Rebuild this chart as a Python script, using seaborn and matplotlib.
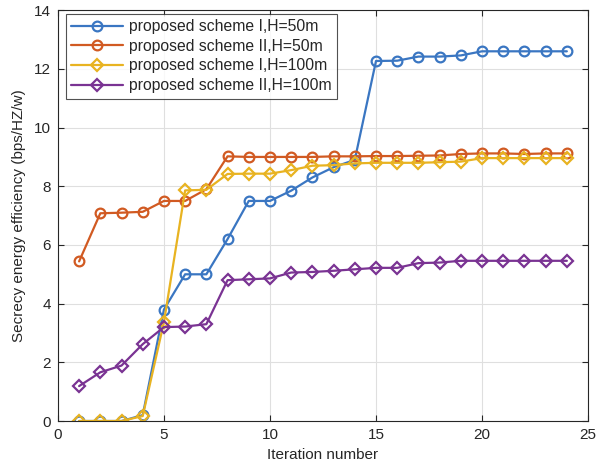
import numpy as np
import pandas as pd
import matplotlib
matplotlib.use("Agg")
import matplotlib.pyplot as plt
import seaborn as sns

iterations = list(range(1, 25))
scheme1_h50 = [0, 0, 0, 0.2, 3.8, 5.0, 5.0, 6.2, 7.5, 7.5, 7.85, 8.3, 8.65, 8.9,
               12.27, 12.28, 12.42, 12.42, 12.46, 12.6, 12.6, 12.6, 12.6, 12.6]
scheme2_h50 = [5.44, 7.08, 7.1, 7.13, 7.5, 7.5, 7.9, 9.02, 9.0, 9.0, 9.0, 9.0, 9.02, 9.02,
               9.03, 9.03, 9.04, 9.05, 9.1, 9.12, 9.12, 9.1, 9.12, 9.12]
scheme1_h100 = [0, 0, 0, 0.17, 3.37, 7.86, 7.88, 8.42, 8.43, 8.43, 8.55, 8.7, 8.72, 8.78,
                8.8, 8.8, 8.8, 8.82, 8.84, 8.96, 8.96, 8.96, 8.96, 8.96]
scheme2_h100 = [1.19, 1.66, 1.89, 2.62, 3.2, 3.22, 3.3, 4.8, 4.83, 4.86, 5.06, 5.08, 5.12, 5.17,
                5.22, 5.22, 5.38, 5.4, 5.46, 5.46, 5.46, 5.46, 5.46, 5.46]
labels = ["proposed scheme I,H=50m", "proposed scheme II,H=50m",
          "proposed scheme I,H=100m", "proposed scheme II,H=100m"]
series = [scheme1_h50, scheme2_h50, scheme1_h100, scheme2_h100]
colors = ["#3A76C2", "#D15A22", "#E8B321", "#7A3393"]
markers = ["o", "o", "D", "D"]
msizes = [7.0, 7.0, 6.2, 6.2]

sns.set_theme(style="white")
plt.rcParams["font.family"] = ["Liberation Sans", "DejaVu Sans"]

fig = plt.figure(figsize=(5.97, 4.65), dpi=100)
ax = fig.add_axes([0.097, 0.0946, 0.888, 0.8834])

for lab, vals, c, m, ms in zip(labels, series, colors, markers, msizes):
    df = pd.DataFrame({"x": iterations, "y": vals})
    sns.lineplot(data=df, x="x", y="y", ax=ax, color=c, marker=m, markersize=ms,
                 markerfacecolor="none", markeredgecolor=c, markeredgewidth=1.6,
                 linewidth=1.6, label=lab)

ax.set_xlim(0, 25)
ax.set_ylim(0, 14)
ax.set_xticks([0, 5, 10, 15, 20, 25])
ax.set_yticks([0, 2, 4, 6, 8, 10, 12, 14])
ax.grid(True, color="#dfdfdf", linewidth=0.8)
ax.set_axisbelow(True)
for s in ax.spines.values():
    s.set_color("#262626")
    s.set_linewidth(0.8)
ax.tick_params(direction="in", length=4, width=0.8, colors="#262626", labelsize=11,
               top=True, right=True, bottom=True, left=True, pad=5)
for t in ax.get_xticklabels() + ax.get_yticklabels():
    t.set_color("#262626")
ax.set_xlabel("Iteration number", fontsize=11, color="#262626", labelpad=4)
ax.set_ylabel("Secrecy energy efficiency (bps/HZ/w)", fontsize=11, color="#262626", labelpad=6)

leg = ax.legend(loc="upper left", bbox_to_anchor=(0.015, 0.992), frameon=True, fancybox=False,
                fontsize=11.3, handlelength=3.3, borderpad=0.35, labelspacing=0.3,
                handletextpad=0.35, borderaxespad=0.0)
leg.get_frame().set_edgecolor("#262626")
leg.get_frame().set_linewidth(0.8)

fig.savefig("out.png", dpi=100)
